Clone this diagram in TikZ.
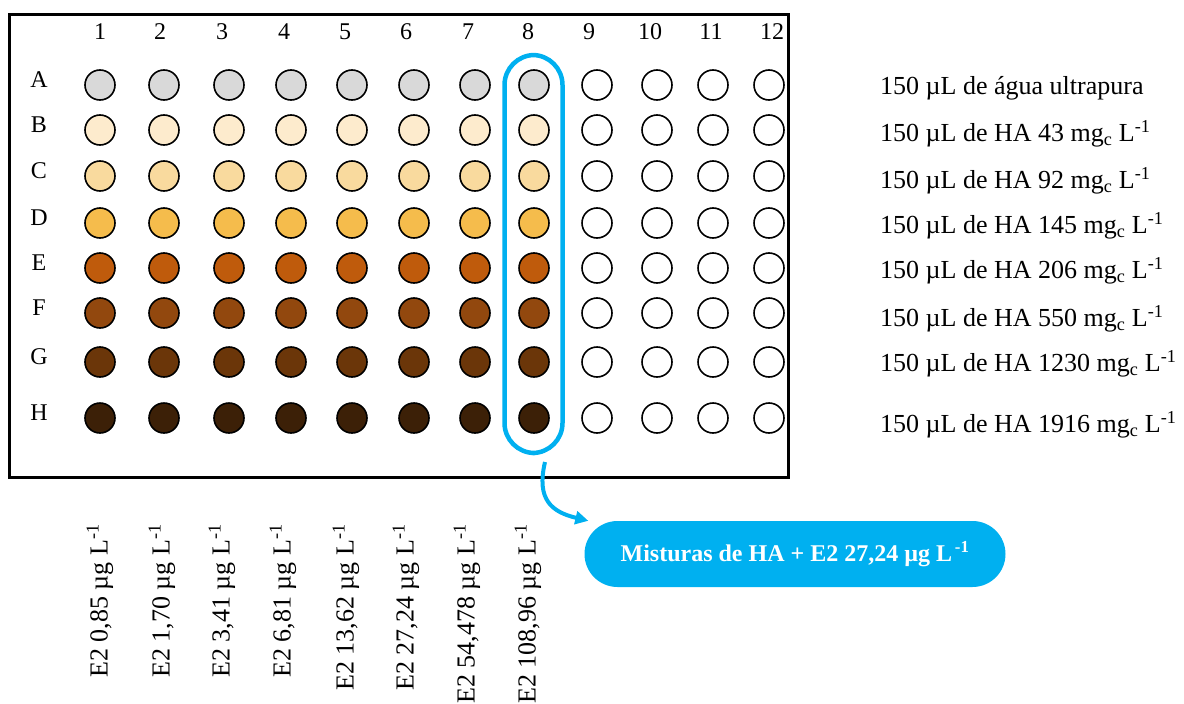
\documentclass[tikz,border=0pt]{standalone}
\usepackage{fontspec}
\setmainfont{Liberation Serif}
\usepackage{xcolor}
\usepackage{tikz}
\usetikzlibrary{arrows.meta, positioning}
\definecolor{wellA}{HTML}{D9D9D9}
\definecolor{wellB}{HTML}{FDEBCD}
\definecolor{wellC}{HTML}{F9DA9E}
\definecolor{wellD}{HTML}{F5BC4C}
\definecolor{wellE}{HTML}{BF5B0C}
\definecolor{wellF}{HTML}{92480E}
\definecolor{wellG}{HTML}{6B3609}
\definecolor{wellH}{HTML}{3C2007}
\definecolor{hlblue}{HTML}{00B0F0}

\begin{document}
\begin{tikzpicture}[x=1pt, y=-1pt,
      >=Stealth, font=\fontsize{24}{28}\selectfont,
      well/.style={circle, draw, line width=1.6pt, minimum size=30pt, inner sep=0pt},
      gridlbl/.style={font=\fontsize{24}{28}\selectfont, inner sep=0pt},
      conc/.style={font=\fontsize{26}{30}\selectfont, anchor=west, inner sep=0pt},
      e2lbl/.style={font=\fontsize{26}{30}\selectfont, rotate=90, anchor=east, inner sep=0pt},
      sel/.style={draw=hlblue, line width=4.5pt, rounded corners=30pt, minimum width=58pt, minimum height=398pt},
      bubble/.style={fill=hlblue, rounded corners=33pt, minimum width=421pt, minimum height=66pt,
        text=white, font=\fontsize{24}{28}\selectfont\bfseries}]
    \useasboundingbox (0,0) rectangle (1184,704);
    % plate
    \draw[line width=3pt] (9,14) rectangle (788,477);
    \foreach \c/\x in {1/100, 2/160, 3/222, 4/284, 5/345, 6/406, 7/468, 8/528, 9/589, 10/650, 11/711, 12/772}
      \node[gridlbl] (num-\c) at (\x,32) {\c};
    % rows: letter / well y / label y / colour / solution
    \foreach \r/\yy/\ly/\col/\txt in {
        A/85/88/wellA/{de água ultrapura},
        B/130/134/wellB/{de HA 43 mg\textsubscript{c} L\textsuperscript{-1}},
        C/176/181/wellC/{de HA 92 mg\textsubscript{c} L\textsuperscript{-1}},
        D/223/226/wellD/{de HA 145 mg\textsubscript{c} L\textsuperscript{-1}},
        E/268/271/wellE/{de HA 206 mg\textsubscript{c} L\textsuperscript{-1}},
        F/313/319/wellF/{de HA 550 mg\textsubscript{c} L\textsuperscript{-1}},
        G/362/364/wellG/{de HA 1230 mg\textsubscript{c} L\textsuperscript{-1}},
        H/418/425/wellH/{de HA 1916 mg\textsubscript{c} L\textsuperscript{-1}}} {
      \node[gridlbl] (row-\r) at (39,\yy-5) {\r};
      \foreach \c/\x in {1/100, 2/164, 3/229, 4/291, 5/352, 6/414, 7/475, 8/534}
        \node[well, fill=\col] (w-\r-\c) at (\x,\yy) {};
      \foreach \c/\x in {9/597, 10/657, 11/713, 12/769}
        \node[well, fill=white] (w-\r-\c) at (\x,\yy) {};
      \node[conc] (sol-\r) at (880,\ly) {150 µL \txt};
    }
    % column 8 highlight
    \node[sel] (pick) at (533.5,254) {};
    \node[bubble] (mix) at (795,554) {Misturas de HA + E2 27,24 µg L\textsuperscript{\,-1}};
    \coordinate (pickout) at (545,462);
    \draw[hlblue, line width=4pt, -{Triangle[length=13pt, width=13pt]}]
      (pickout) .. controls (536,500) and (552,512) .. ([xshift=4pt]mix.north west);
    % E2 concentrations
    \foreach \c/\x/\e in {1/100/{0,85}, 2/162/{1,70}, 3/222/{3,41}, 4/283/{6,81}, 5/346/{13,62}, 6/406/{27,24}, 7/467/{54,478}, 8/528/{108,96}}
      \node[e2lbl] (e2-\c) at (\x,524) {E2 \e{} µg L\textsuperscript{-1}};
  \end{tikzpicture}
\end{document}
